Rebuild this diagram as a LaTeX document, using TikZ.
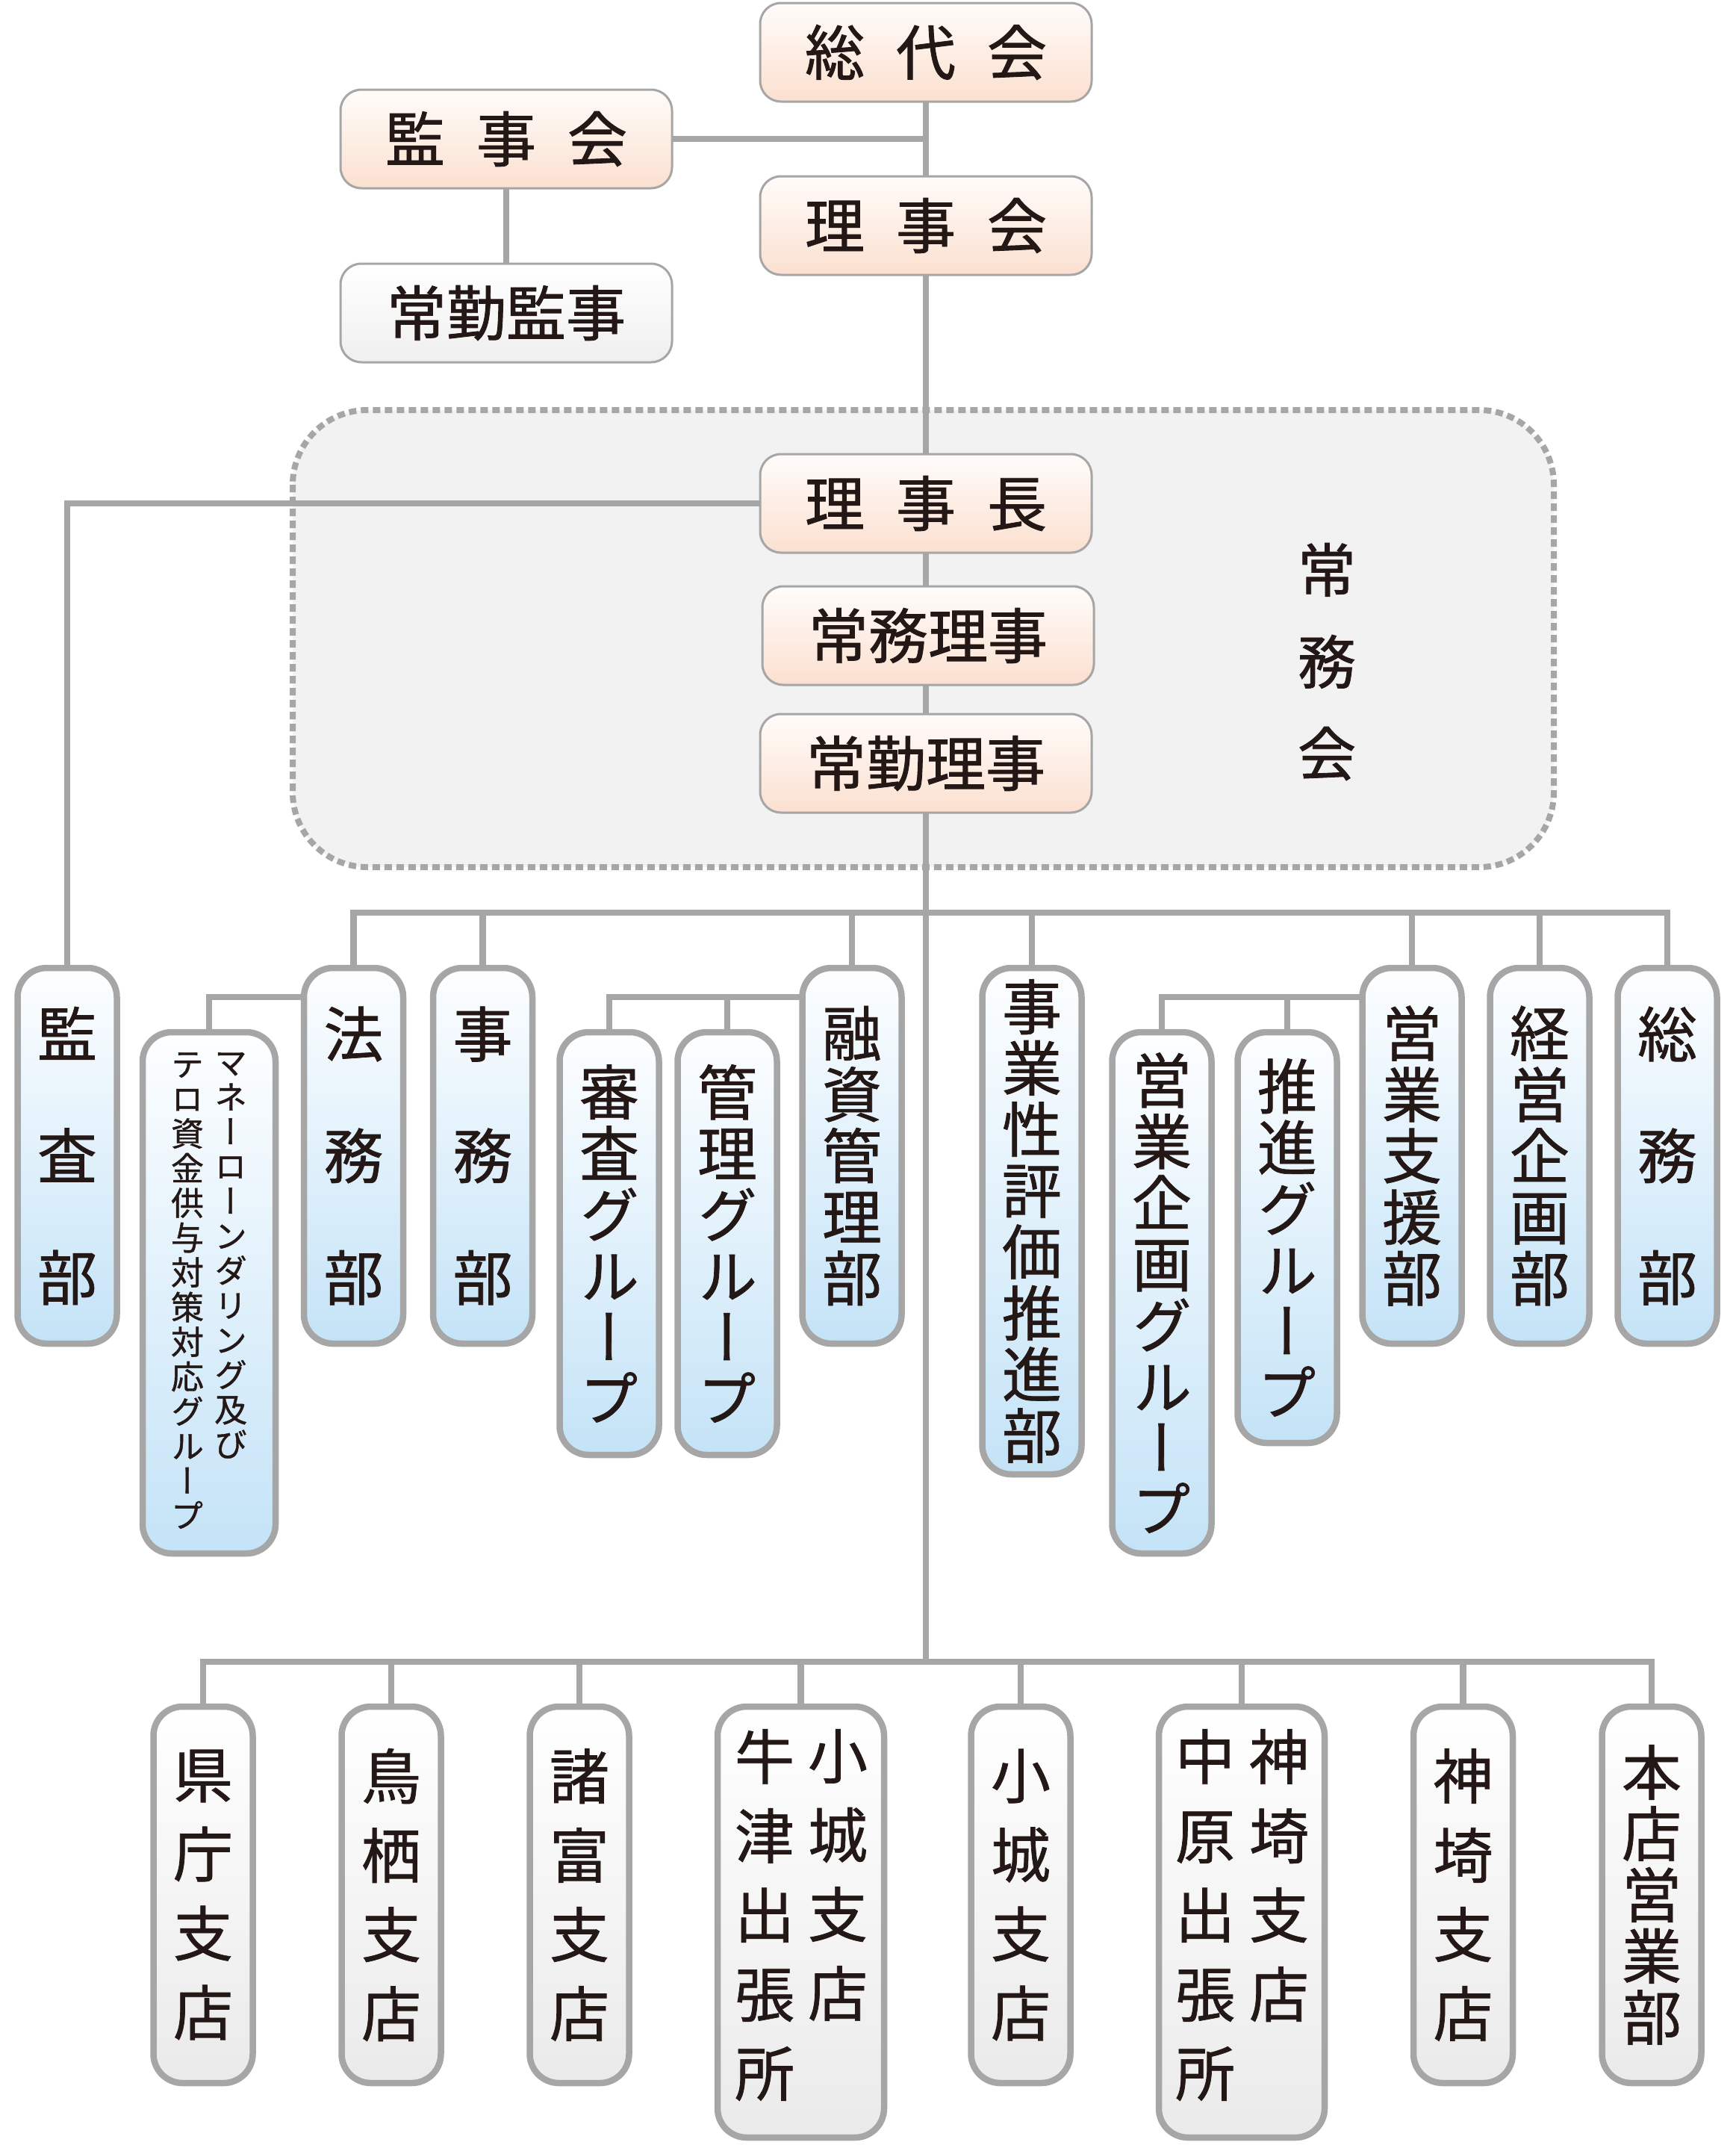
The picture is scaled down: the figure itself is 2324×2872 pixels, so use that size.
\documentclass[tikz,border=0pt]{standalone}
\usepackage{fontspec}
\setmainfont{Noto Sans CJK JP}[FakeBold=1.1]
\newfontfamily\jpv[RawFeature=+vert,FakeBold=0.9]{Noto Sans CJK JP}
\definecolor{lineg}{HTML}{A6A6A6}
\definecolor{txt}{HTML}{231815}
\definecolor{peachB}{HTML}{FBE0D0}
\definecolor{peachT}{HTML}{FFFCFA}
\definecolor{blueB}{HTML}{C4E3F7}
\definecolor{blueT}{HTML}{FDFEFF}
\definecolor{grayB}{HTML}{EAEAEA}
\definecolor{grayL}{HTML}{EFEFEF}
\definecolor{regionF}{HTML}{F2F2F2}
\pgfdeclarelayer{bglayer}
\pgfdeclarelayer{linelayer}
\pgfsetlayers{bglayer,linelayer,main}
\tikzset{
  conn/.style={draw=lineg, line width=8.5pt, line cap=rect, line join=miter},
  hbox/.style={draw=lineg, line width=3pt, rounded corners=28pt, inner sep=0pt, text=txt,
    minimum width=444pt, minimum height=132pt, font=\fontsize{80}{82}\selectfont},
  peach/.style={hbox, top color=peachT, bottom color=peachB},
  grayh/.style={hbox, top color=white, bottom color=grayL},
  vbox/.style={draw=lineg, line width=8.5pt, rounded corners=39pt, inner sep=0pt, text=txt,
    align=center, minimum width=133pt, font=\jpv\fontsize{80}{82}\selectfont},
  bluebox/.style={vbox, top color=blueT, bottom color=blueB},
  graybox/.style={vbox, top color=white, bottom color=grayB},
  loose/.style={font=\jpv\fontsize{80}{163}\selectfont},
  medsp/.style={font=\jpv\fontsize{80}{106}\selectfont},
  vcol/.style={inner sep=0pt, align=center, text=txt, anchor=north, font=\jpv\fontsize{80}{106}\selectfont},
  smallcol/.style={inner sep=0pt, align=center, text=txt, anchor=north, font=\jpv\fontsize{44}{46.5}\selectfont},
  region/.style={fill=regionF, draw=lineg, line width=8pt, dash pattern=on 10pt off 6pt, rounded corners=100pt},
}
\begin{document}
\begin{tikzpicture}[x=1pt,y=-1pt]
\useasboundingbox (0,0) rectangle (2324,2872);

% ---- top boxes
\node[peach] (sodai) at (1240,70) {総\hspace{42pt}代\hspace{42pt}会};
\node[peach] (kanjikai) at (678,186) {監\hspace{42pt}事\hspace{42pt}会};
\node[peach] (rijikai) at (1240,302) {理\hspace{42pt}事\hspace{42pt}会};
\node[grayh] (joukin) at (678,419) {常勤監事};
\node[peach] (rijicho) at (1240,674) {理\hspace{42pt}事\hspace{42pt}長};
\node[peach] (joumu) at (1243,851) {常務理事};
\node[peach] (joukinri) at (1240,1022) {常勤理事};
\node[inner sep=0pt, text=txt, align=center, font=\fontsize{78}{123}\selectfont] (joumukai) at (1777,886) {常\\務\\会};

% ---- first row
\node[bluebox, loose, minimum height=503pt] (kansa) at (90,1547.5) {監\\査\\部};
\node[bluebox, minimum width=178pt, minimum height=698pt] (money) at (280,1731) {};
\node[smallcol] (moneyA) at (309,1409) {マ\\ネ\\ー\\ロ\\ー\\ン\\ダ\\リ\\ン\\グ\\及\\び};
\node[smallcol] (moneyB) at (251,1409) {テ\\ロ\\資\\金\\供\\与\\対\\策\\対\\応\\グ\\ル\\ー\\プ};
\node[bluebox, loose, minimum height=503pt] (houmu) at (473.5,1547.5) {法\\務\\部};
\node[bluebox, loose, minimum height=503pt] (jimu) at (646.5,1547.5) {事\\務\\部};
\node[bluebox, minimum height=566pt] (shinsa) at (816,1665) {審\\査\\グ\\ル\\ー\\プ};
\node[bluebox, minimum height=566pt] (kanri) at (974,1665) {管\\理\\グ\\ル\\ー\\プ};
\node[bluebox, minimum height=503pt] (yuushi) at (1141,1547.5) {融\\資\\管\\理\\部};
\node[bluebox, minimum height=678pt] (jigyou) at (1382,1635) {事\\業\\性\\評\\価\\推\\進\\部};
\node[bluebox, minimum height=698pt] (kikaku) at (1556,1731) {営\\業\\企\\画\\グ\\ル\\ー\\プ};
\node[bluebox, minimum height=550pt] (suishin) at (1724,1657) {推\\進\\グ\\ル\\ー\\プ};
\node[bluebox, minimum height=503pt] (shien) at (1891,1547.5) {営\\業\\支\\援\\部};
\node[bluebox, minimum height=503pt] (keiei) at (2062,1547.5) {経\\営\\企\\画\\部};
\node[bluebox, loose, minimum height=503pt] (soumu) at (2233,1547.5) {総\\務\\部};

% ---- branch row
\node[graybox, medsp, minimum height=504pt] (kencho) at (272,2537) {県\\庁\\支\\店};
\node[graybox, medsp, minimum height=504pt] (tosu) at (524,2537) {鳥\\栖\\支\\店};
\node[graybox, medsp, minimum height=504pt] (morodomi) at (776,2537) {諸\\富\\支\\店};
\node[graybox, minimum width=223pt, minimum height=577pt] (ogiushi) at (1072.5,2573.5) {};
\node[vcol] (ogiushiA) at (1122,2315) {小\\城\\支\\店};
\node[vcol] (ogiushiB) at (1024,2315) {牛\\津\\出\\張\\所};
\node[graybox, medsp, minimum height=504pt] (ogi) at (1367,2537) {小\\城\\支\\店};
\node[graybox, minimum width=222pt, minimum height=577pt] (kanzakiN) at (1663,2573.5) {};
\node[vcol] (kanzakiA) at (1713,2315) {神\\埼\\支\\店};
\node[vcol] (kanzakiB) at (1614,2315) {中\\原\\出\\張\\所};
\node[graybox, medsp, minimum height=504pt] (kanzaki) at (1959.5,2537) {神\\埼\\支\\店};
\node[graybox, minimum height=504pt] (honten) at (2212,2537) {本\\店\\営\\業\\部};

\coordinate (bus1) at (0,1222);
\coordinate (sub1) at (0,1335);
\coordinate (bus2) at (0,2225);

\begin{pgfonlayer}{bglayer}
  \path[region] (392,549) rectangle (2081,1161);
\end{pgfonlayer}

\begin{pgfonlayer}{linelayer}
  % spine
  \draw[conn] (sodai.south) -- (sodai.south |- bus2);
  \draw[conn] (kanjikai.east) -- (kanjikai.east -| sodai.south);
  \draw[conn] (kanjikai.south) -- (joukin.north);
  \draw[conn] (rijicho.west) -- (kansa.north |- rijicho.west) -- (kansa.north);
  % first bus
  \draw[conn] (houmu.north |- bus1) -- (soumu.north |- bus1);
  \foreach \n in {houmu,jimu,yuushi,jigyou,shien,keiei,soumu}
    \draw[conn] (\n.north) -- (\n.north |- bus1);
  % sub groups
  \draw[conn] (houmu.west |- sub1) -- (money.north |- sub1) -- (money.north);
  \draw[conn] (yuushi.west |- sub1) -- (shinsa.north |- sub1) -- (shinsa.north);
  \draw[conn] (kanri.north) -- (kanri.north |- sub1);
  \draw[conn] (shien.west |- sub1) -- (kikaku.north |- sub1) -- (kikaku.north);
  \draw[conn] (suishin.north) -- (suishin.north |- sub1);
  % branch bus
  \draw[conn] (kencho.north |- bus2) -- (honten.north |- bus2);
  \foreach \n in {kencho,tosu,morodomi,ogiushi,ogi,kanzakiN,kanzaki,honten}
    \draw[conn] (\n.north) -- (\n.north |- bus2);
\end{pgfonlayer}
\end{tikzpicture}
\end{document}
